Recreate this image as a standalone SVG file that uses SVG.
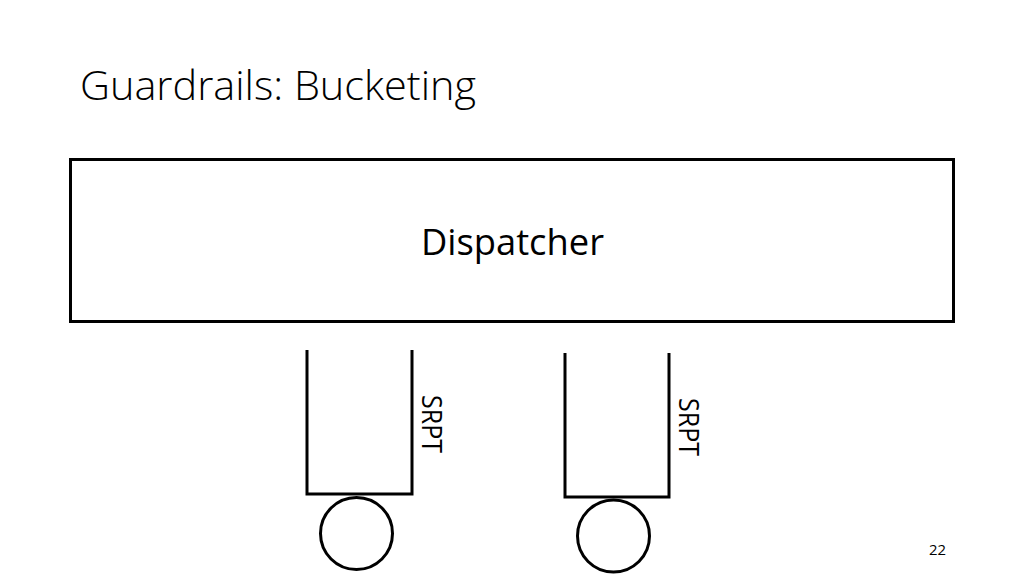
<svg xmlns="http://www.w3.org/2000/svg" width="1024" height="576" viewBox="0 0 1024 576">
<style>
text{font-family:"Open Sans","Noto Sans","Liberation Sans",sans-serif;fill:#000}
.s{fill:none;stroke:#000;stroke-width:3}
.title{font-size:40px;font-weight:300}
.lbl{font-size:36px}
.q{font-size:28px}
.pg{font-size:15px}
</style>
<rect width="1024" height="576" fill="#fff"/>
<text class="title" x="80" y="100" textLength="396" lengthAdjust="spacingAndGlyphs">Guardrails: Bucketing</text>
<g id="dispatcher">
<rect class="s" x="70.5" y="159.5" width="883" height="162"/>
<text class="lbl" x="421" y="255" textLength="183" lengthAdjust="spacingAndGlyphs">Dispatcher</text>
</g>
<g id="queue1">
<path class="s" d="M307 350V494H412V350"/>
<text class="q" transform="translate(422,395) rotate(90)" textLength="58" lengthAdjust="spacingAndGlyphs">SRPT</text>
</g>
<g id="queue2">
<path class="s" d="M565 353V497H669V353"/>
<text class="q" transform="translate(679,398) rotate(90)" textLength="58" lengthAdjust="spacingAndGlyphs">SRPT</text>
</g>
<g id="server1"><circle class="s" cx="356.5" cy="533.5" r="36"/></g>
<g id="server2"><circle class="s" cx="613.5" cy="536" r="36"/></g>
<g id="connectors"></g>
<text class="pg" x="929" y="555" textLength="17" lengthAdjust="spacingAndGlyphs">22</text>
</svg>
